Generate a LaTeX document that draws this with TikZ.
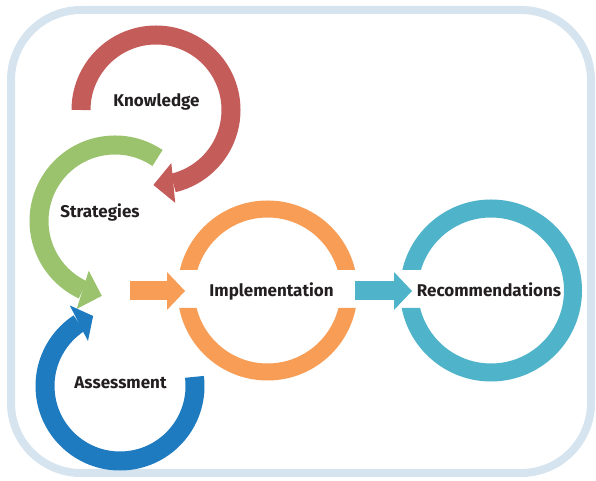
\documentclass[tikz,border=0pt]{standalone}
\usepackage{fontspec}
\setmainfont{Fira Sans}
\usetikzlibrary{arrows.meta,bending}
\definecolor{frameblue}{RGB}{214,228,240}
\definecolor{knowred}{RGB}{196,92,90}
\definecolor{stratgreen}{RGB}{155,195,110}
\definecolor{assessblue}{RGB}{30,123,192}
\definecolor{implorange}{RGB}{247,157,86}
\definecolor{recomteal}{RGB}{79,179,202}
\definecolor{labeltext}{RGB}{35,31,32}

\begin{document}
\begin{tikzpicture}[
  x=1pt, y=1pt,
  ring/.style={line width=19pt, line cap=butt},
  head/.style={-{Triangle[length=20pt,width=40pt,line width=0pt]}},
  shorthead/.style={-{Triangle[length=16pt,width=40pt,line width=0pt]}},
  block/.style={line width=19pt, -{Triangle[length=18pt,width=38pt,line width=0pt]}},
  lbl/.style={font=\bfseries\fontsize{17}{20}\selectfont, text=labeltext,
              anchor=base, inner sep=0pt}
]
  \useasboundingbox (0,0) rectangle (596,481);

  % outer frame
  \draw[frameblue, line width=8pt, rounded corners=70pt] (11,8) rectangle (591,471);

  % ring centres
  \coordinate (kc) at (156,371);
  \coordinate (sc) at (115,260);
  \coordinate (ac) at (120,95);
  \coordinate (ic) at (267.5,190.5);
  \coordinate (rc) at (491,190.5);

  % Knowledge
  \draw[ring, knowred, head] (kc) ++(180:75) arc[start angle=180, end angle=-92, radius=75];
  % Strategies
  \draw[ring, stratgreen, head] (sc) ++(56:76) arc[start angle=56, end angle=260, radius=76];
  % Assessment
  \draw[ring, assessblue, shorthead] (ac) ++(7:75) arc[start angle=7, end angle=-249, radius=75];

  % Implementation ring, open on both sides
  \begin{scope}
    \clip (170,211) rectangle (365,290) (170,173) rectangle (365,95);
    \draw[implorange, line width=17pt] (ic) circle[radius=81.5];
  \end{scope}
  % Recommendations ring, open on the left
  \begin{scope}
    \clip (390,211) rectangle (590,290) (390,173) rectangle (590,95)
          (440,173) rectangle (590,211);
    \draw[recomteal, line width=18pt] (rc) circle[radius=82];
  \end{scope}

  % block arrows
  \coordinate (implin) at (185,190);
  \coordinate (recomin) at (412,190);
  \draw[block, implorange] (130,190) -- (implin);
  \draw[block, recomteal] (355,190) -- (recomin);

  % labels
  \node[lbl] (know)   at (156.5,374) {Knowledge};
  \node[lbl] (strat)  at (100,263)   {Strategies};
  \node[lbl] (assess) at (120.5,92)  {Assessment};
  \node[lbl] (impl)   at (271.5,184) {Implementation};
  \node[lbl] (recom)  at (489,184)   {Recommendations};
\end{tikzpicture}
\end{document}
